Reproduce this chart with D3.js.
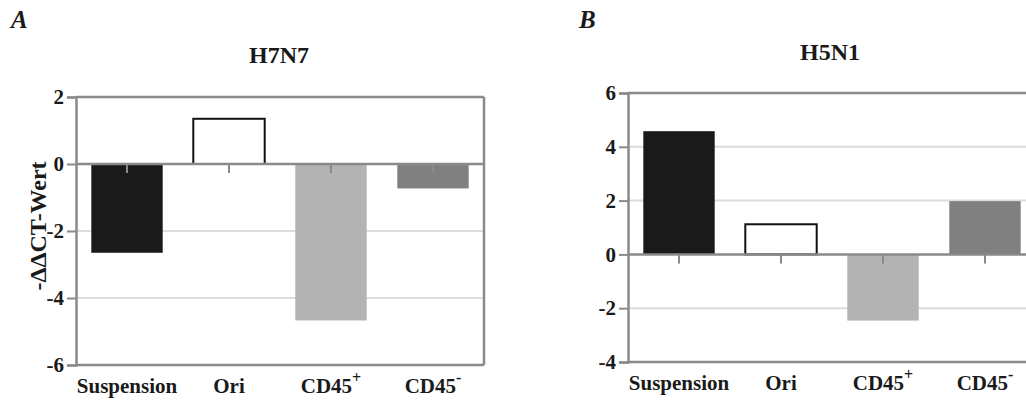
<!DOCTYPE html>
<html>
<head>
<meta charset="utf-8">
<script src="https://cdn.jsdelivr.net/npm/d3@7"></script>
<style>
  html, body { margin: 0; padding: 0; background: #fff; }
  svg { display: block; font-family: "Liberation Serif", "Times New Roman", serif; }
</style>
</head>
<body>
<svg id="chart" width="1026" height="400"></svg>
<script>
// Categories (label text and optional superscript)
const categories = ["Suspension", "Ori", "CD45+", "CD45-"];
const categoryBase = ["Suspension", "Ori", "CD45", "CD45"];
const categorySup = ["", "", "+", "-"];

// -ΔΔCT values per panel
const valuesH7N7 = [-2.65, 1.35, -4.67, -0.73];
const valuesH5N1 = [4.58, 1.12, -2.46, 1.98];

// Y axis ticks per panel
const ticksH7N7 = [-6, -4, -2, 0, 2];
const ticksH5N1 = [-4, -2, 0, 2, 4, 6];

// Bar fills and outlines by category
const fills = ["#1a1a1a", "#ffffff", "#b3b3b3", "#808080"];
const strokes = ["none", "#111111", "none", "none"];

const svg = d3.select("#chart");
const frameColor = "#8a8a8a";
const gridColor = "#dcdcdc";
const textColor = "#1a1a1a";

function panel(opts) {
  const { x0, x1, yTop, yBottom, domain, ticks, values, letter, letterX, title, titleX, titleY, yTitle } = opts;
  const g = svg.append("g");

  const x = d3.scaleBand().domain(categories).range([x0, x1])
    .paddingInner(0.3).paddingOuter(0.15).align(0.5);
  const y = d3.scaleLinear().domain(domain).range([yBottom, yTop]);

  // gridlines
  g.append("g").selectAll("line")
    .data(ticks.filter(t => t !== 0 && t !== domain[0] && t !== domain[1]))
    .join("line")
    .attr("x1", x0).attr("x2", x1)
    .attr("y1", d => y(d)).attr("y2", d => y(d))
    .attr("stroke", gridColor).attr("stroke-width", 2);

  // bars
  g.append("g").selectAll("rect")
    .data(values)
    .join("rect")
    .attr("x", (d, i) => x(categories[i]))
    .attr("width", x.bandwidth())
    .attr("y", d => y(Math.max(0, d)))
    .attr("height", d => Math.abs(y(d) - y(0)))
    .attr("fill", (d, i) => fills[i])
    .attr("stroke", (d, i) => strokes[i])
    .attr("stroke-width", 2);

  // frame: top, bottom, right
  g.append("line").attr("x1", x0).attr("x2", x1).attr("y1", yTop).attr("y2", yTop)
    .attr("stroke", frameColor).attr("stroke-width", 2.5);
  g.append("line").attr("x1", x0).attr("x2", x1).attr("y1", yBottom).attr("y2", yBottom)
    .attr("stroke", frameColor).attr("stroke-width", 2.5);
  g.append("line").attr("x1", x1).attr("x2", x1).attr("y1", yTop).attr("y2", yBottom)
    .attr("stroke", frameColor).attr("stroke-width", 2.5);

  // y axis with outside ticks
  const yAxis = d3.axisLeft(y).tickValues(ticks).tickSize(9).tickPadding(3);
  const ya = g.append("g").attr("transform", `translate(${x0},0)`).call(yAxis);
  ya.select(".domain").attr("stroke", frameColor).attr("stroke-width", 2.5);
  ya.selectAll(".tick line").attr("stroke", frameColor).attr("stroke-width", 2);
  ya.selectAll(".tick text")
    .attr("font-family", "Liberation Serif, serif")
    .attr("font-weight", "bold").attr("font-size", 21).attr("fill", textColor)
    .text(d => d < 0 ? "-" + Math.abs(d) : d);

  // zero line
  g.append("line").attr("x1", x0).attr("x2", x1).attr("y1", y(0)).attr("y2", y(0))
    .attr("stroke", frameColor).attr("stroke-width", 2.5);

  // category tick marks below the zero line
  g.append("g").selectAll("line")
    .data(categories)
    .join("line")
    .attr("x1", d => x(d) + x.bandwidth() / 2)
    .attr("x2", d => x(d) + x.bandwidth() / 2)
    .attr("y1", y(0)).attr("y2", y(0) + 9)
    .attr("stroke", frameColor).attr("stroke-width", 2);

  // category labels
  const lab = g.append("g").selectAll("text")
    .data(categories)
    .join("text")
    .attr("x", d => x(d) + x.bandwidth() / 2)
    .attr("y", yBottom + 28)
    .attr("text-anchor", "middle")
    .attr("font-weight", "bold").attr("font-size", 21).attr("fill", textColor);
  lab.append("tspan").text((d, i) => categoryBase[i]);
  lab.append("tspan")
    .attr("dy", -10).attr("font-size", 16)
    .text((d, i) => categorySup[i]);

  // panel title
  g.append("text")
    .attr("x", titleX)
    .attr("y", titleY)
    .attr("text-anchor", "middle")
    .attr("font-weight", "bold").attr("font-size", 24).attr("fill", textColor)
    .text(title);

  // panel letter
  g.append("text")
    .attr("x", letterX).attr("y", 28)
    .attr("font-weight", "bold").attr("font-style", "italic")
    .attr("font-size", 25).attr("fill", textColor)
    .text(letter);

  if (yTitle) {
    g.append("text")
      .attr("transform", `translate(46,${(yTop + yBottom) / 2 - 5}) rotate(-90)`)
      .attr("text-anchor", "middle")
      .attr("font-weight", "bold").attr("font-size", 24).attr("fill", textColor)
      .text(yTitle);
  }
}

panel({
  x0: 76, x1: 484, yTop: 97, yBottom: 365, domain: [-6, 2],
  ticks: ticksH7N7, values: valuesH7N7,
  letter: "A", letterX: 11, title: "H7N7", titleX: 279, titleY: 63,
  yTitle: "-ΔΔCT-Wert"
});

panel({
  x0: 628, x1: 1036, yTop: 93, yBottom: 362, domain: [-4, 6],
  ticks: ticksH5N1, values: valuesH5N1,
  letter: "B", letterX: 579, title: "H5N1", titleX: 830, titleY: 60
});
</script>
</body>
</html>
